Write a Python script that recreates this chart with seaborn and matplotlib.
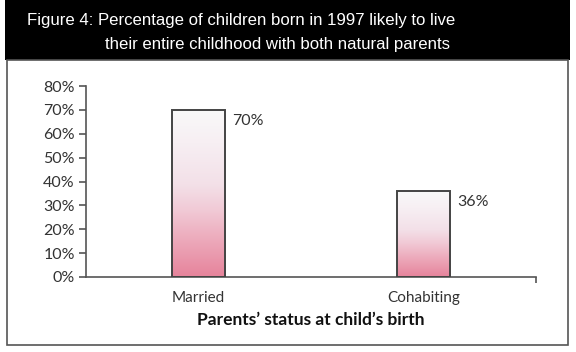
import numpy as np
import pandas as pd
import matplotlib
matplotlib.use("Agg")
import matplotlib.pyplot as plt
import seaborn as sns
from matplotlib.colors import LinearSegmentedColormap
from matplotlib.patches import Rectangle

categories = ["Married", "Cohabiting"]
values = [70, 36]
value_labels = ["70%", "36%"]
yticks = [0, 10, 20, 30, 40, 50, 60, 70, 80]
ytick_labels = ["0%", "10%", "20%", "30%", "40%", "50%", "60%", "70%", "80%"]
title_line1 = "Figure 4: Percentage of children born in 1997 likely to live"
title_line2 = "their entire childhood with both natural parents"
xlabel = "Parents\u2019 status at child\u2019s birth"

sns.set_style("white")
plt.rcParams["font.family"] = ["Lato", "DejaVu Sans"]

W, H = 576, 352
fig = plt.figure(figsize=(W / 100, H / 100), dpi=100)
fig.patch.set_facecolor("white")

# title band and border box
fig.patches.append(Rectangle((5 / W, 1 - 60 / H), 565 / W, 60 / H, transform=fig.transFigure,
                             facecolor="black", edgecolor="none", zorder=0))
fig.patches.append(Rectangle((7 / W, 1 - 345 / H), 561 / W, 285 / H, transform=fig.transFigure,
                             facecolor="none", edgecolor="#555555", linewidth=1.2, zorder=1))
fig.text(27 / W, 1 - 20 / H, title_line1, color="white", fontsize=12.1, ha="left", va="center",
         family=["Liberation Sans", "DejaVu Sans"])
fig.text(105 / W, 1 - 44 / H, title_line2, color="white", fontsize=12.1, ha="left", va="center",
         family=["Liberation Sans", "DejaVu Sans"])

ax = fig.add_axes([86 / W, 1 - 277 / H, 450 / W, 191 / H])
df = pd.DataFrame({"status": categories, "pct": values})
sns.barplot(data=df, x="status", y="pct", order=categories, color="white", width=0.2356,
            edgecolor="#444444", linewidth=1.4, ax=ax, zorder=3)

cmap = LinearSegmentedColormap.from_list(
    "pinkgrad",
    [(0.0, "#e6839b"), (0.2, "#eca6b8"), (0.4, "#f1cad6"), (0.55, "#f3e0e8"),
     (0.8, "#f7eff3"), (1.0, "#f9f9f9")])
grad = np.linspace(0, 1, 256).reshape(-1, 1)
for patch in ax.patches:
    x0 = patch.get_x()
    w = patch.get_width()
    h = patch.get_height()
    img = ax.imshow(grad, extent=[x0, x0 + w, 0, h], origin="lower", aspect="auto",
                    cmap=cmap, zorder=2, interpolation="bilinear")
    img.set_clip_path(patch)
    patch.set_facecolor("none")

for patch, lab, v in zip(ax.patches, value_labels, values):
    ax.text(patch.get_x() + patch.get_width() + 0.033, v - 4.6, lab, ha="left", va="center",
            fontsize=11.5, color="#333333")

ax.set_xlim(-0.5, 1.5)
ax.set_ylim(0, 80)
ax.set_yticks(yticks)
ax.set_yticklabels(ytick_labels)
ax.tick_params(axis="y", length=5, width=1.2, color="#555555", labelsize=11.5, labelcolor="#333333",
               pad=3, left=True, direction="out")
ax.tick_params(axis="x", length=0, labelsize=11, labelcolor="#333333", pad=10)
ax.set_xticks([1.5], minor=True)
ax.tick_params(axis="x", which="minor", length=4, width=1.2, color="#555555", bottom=True, direction="out")
ax.set_ylabel("")
ax.set_xlabel(xlabel, fontsize=12.5, fontweight="bold", color="#111111")
ax.xaxis.set_label_coords(0.5, -0.185)

for s in ["top", "right"]:
    ax.spines[s].set_visible(False)
for s in ["left", "bottom"]:
    ax.spines[s].set_visible(True)
    ax.spines[s].set_color("#555555")
    ax.spines[s].set_linewidth(1.2)

fig.savefig("out.png", dpi=100, facecolor="white")
